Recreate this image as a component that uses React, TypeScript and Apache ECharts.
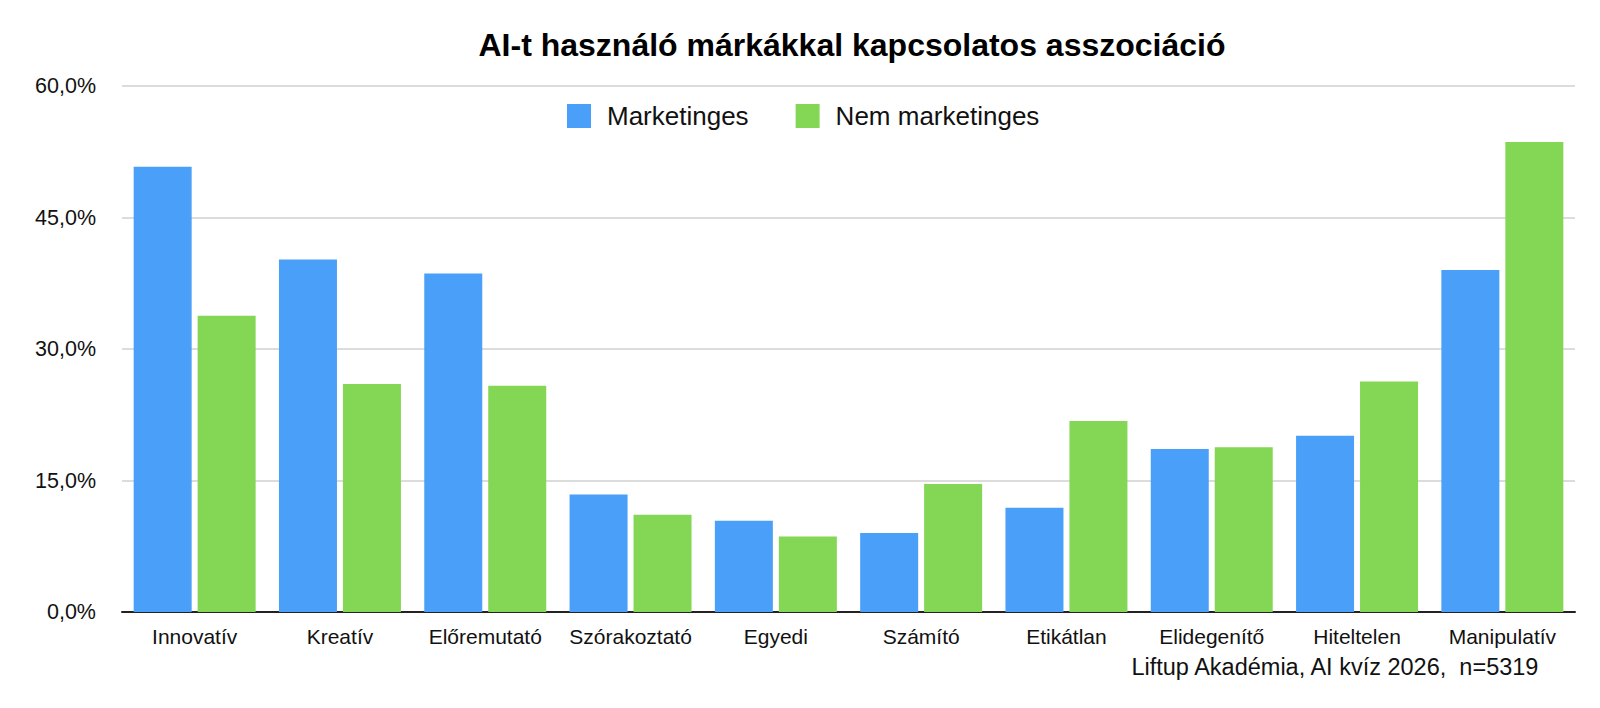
import React, { useEffect, useRef } from "react";
import * as echarts from "echarts";

const categories = [
  "Innovatív",
  "Kreatív",
  "Előremutató",
  "Szórakoztató",
  "Egyedi",
  "Számító",
  "Etikátlan",
  "Elidegenítő",
  "Hiteltelen",
  "Manipulatív",
];
const marketingValues = [50.8, 40.2, 38.6, 13.4, 10.4, 9.0, 11.9, 18.6, 20.1, 39.0];
const nonMarketingValues = [33.8, 26.0, 25.8, 11.1, 8.6, 14.6, 21.8, 18.8, 26.3, 53.6];
const seriesNames = ["Marketinges", "Nem marketinges"];
const titleText = "AI-t használó márkákkal kapcsolatos asszociáció";
const footnoteText = "Liftup Akadémia, AI kvíz 2026,  n=5319";

const FONT = "'Liberation Sans', Arial, Helvetica, sans-serif";
const BLUE = "#4AA0F8";
const GREEN = "#84D655";

export default function App() {
  const ref = useRef<HTMLDivElement>(null);
  useEffect(() => {
    if (!ref.current) return;
    const chart = echarts.init(ref.current, null, { renderer: "svg" });
    chart.setOption({
      animation: false,
      backgroundColor: "#ffffff",
      textStyle: { fontFamily: FONT },
      title: {
        text: titleText,
        left: 847,
        top: 24,
        textAlign: "center",
        textStyle: { fontSize: 32, fontWeight: "bold", color: "#000", fontFamily: FONT },
      },
      legend: {
        data: seriesNames,
        left: 562,
        top: 98,
        itemWidth: 24,
        itemHeight: 24,
        itemGap: 47,
        icon: "rect",
        textStyle: { fontSize: 26, color: "#111", fontFamily: FONT, padding: [0, 0, 0, 11] },
      },
      grid: { left: 122, right: 25, top: 86, bottom: 96, containLabel: false },
      xAxis: {
        type: "category",
        data: categories,
        axisTick: { show: false },
        axisLine: { lineStyle: { color: "#222", width: 2 } },
        axisLabel: { fontSize: 21, color: "#111", margin: 14, fontFamily: FONT, interval: 0 },
        splitLine: { show: false },
      },
      yAxis: {
        type: "value",
        min: 0,
        max: 60,
        interval: 15,
        axisLine: { show: false },
        axisTick: { show: false },
        axisLabel: {
          fontSize: 21.5,
          color: "#111",
          margin: 26,
          fontFamily: FONT,
          formatter: (v: number) => v.toFixed(1).replace(".", ",") + "%",
        },
        splitLine: { lineStyle: { color: "#d0d0d0", width: 1.5 } },
      },
      graphic: [
        {
          type: "text",
          right: 59,
          top: 655,
          style: { text: footnoteText, fontSize: 23.5, fill: "#111", fontFamily: FONT },
        },
      ],
      series: [
        {
          name: seriesNames[0],
          type: "bar",
          data: marketingValues,
          barWidth: 58,
          barGap: "10.3%",
          itemStyle: { color: BLUE },
        },
        {
          name: seriesNames[1],
          type: "bar",
          data: nonMarketingValues,
          barWidth: 58,
          itemStyle: { color: GREEN },
        },
      ],
    });
    return () => chart.dispose();
  }, []);
  return (
    <div
      ref={ref}
      style={{ position: "fixed", left: 0, top: 0, width: 1600, height: 708, background: "#fff" }}
    />
  );
}
